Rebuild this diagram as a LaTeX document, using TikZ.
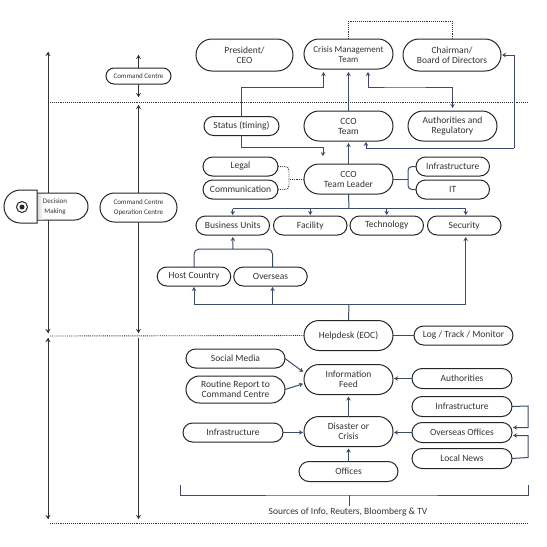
\documentclass[tikz,border=0pt]{standalone}
\usepackage{xcolor}
\usepackage{fontspec}
\setmainfont{Carlito}
\usetikzlibrary{positioning,arrows.meta,shapes.misc}
\definecolor{flowblue}{HTML}{3B4B68}
\definecolor{inkgrey}{HTML}{333333}

\begin{document}
\begin{tikzpicture}[
  x=1pt, y=-1pt,
  pill/.style={draw=black!85, fill=white, rounded rectangle, line width=1pt, inner sep=0pt, outer sep=0pt,
               text=inkgrey, font=\fontsize{9.5}{10}\selectfont, align=center},
  big/.style={pill, minimum width=89pt, minimum height=30pt},
  wide/.style={pill, minimum width=99pt, minimum height=20pt},
  small/.style={pill, minimum width=73.5pt, minimum height=19pt},
  tiny/.style={font=\fontsize{7}{9.5}\selectfont},
  flow/.style={draw=flowblue, line width=1pt},
  arrow/.style={flow, -{Stealth[length=4pt,width=4.5pt]}, shorten >=1pt},
  spine/.style={draw=inkgrey, line width=1pt, -{Stealth[length=4pt,width=5pt]}},
  dots/.style={draw=inkgrey, line width=0.9pt, densely dotted}
]
\useasboundingbox (0,0) rectangle (547,547);

% level separators
\coordinate (sepAL) at (50,102);  \coordinate (sepAR) at (528,102);
\coordinate (sepBL) at (50,336);
\coordinate (sepCL) at (50,523);  \coordinate (sepCR) at (528,523);
\draw[dots] (sepAL) -- (sepAR);
\draw[dots] (sepCL) -- (sepCR);

% top tier
\node[big, font=\fontsize{9}{10}\selectfont] (crisis) at (348.5,54) {Crisis Management\\Team};
\node[big, minimum width=97pt, minimum height=32pt, left=11pt of crisis, yshift=-1pt] (president) {President/\\CEO};
\node[big, minimum width=98pt, minimum height=32pt, right=10pt of crisis, yshift=-1pt] (chairman) {Chairman/\\Board of Directors};
\node[big, below=42pt of crisis] (ccoteam) {CCO\\Team};
\node[big, right=15pt of ccoteam] (authreg) {Authorities and\\Regulatory};
\node[small, minimum width=75pt, left=25pt of ccoteam] (status) {Status (timing)};
\node[big, below=23pt of ccoteam] (leader) {CCO\\Team Leader};
\node[small, minimum width=75pt] (legal) at (240.5,166.5) {Legal};
\node[small, minimum width=75pt, below=4pt of legal] (comm) {Communication};
\node[small, right=23pt of leader, yshift=12.5pt] (infra) {Infrastructure};
\node[small, below=4pt of infra] (it) {IT};

% business row
\node[small] (bu) at (232.75,225.5) {Business Units};
\node[small, right=4pt of bu] (facility) {Facility};
\node[small, right=3pt of facility] (technology) {Technology};
\node[small, right=4pt of technology] (security) {Security};
\node[small] (host) at (194,276.5) {Host Country};
\node[small, right=3pt of host] (overseas) {Overseas};

% lower tier
\node[big] (helpdesk) at (348.5,335.5) {Helpdesk (EOC)};
\node[wide, minimum height=19pt, right=21pt of helpdesk] (log) {Log / Track / Monitor};
\node[big, below=14pt of helpdesk] (feed) {Information\\Feed};
\node[big, below=22pt of feed] (disaster) {Disaster or\\Crisis};
\node[wide, below=15pt of disaster] (offices) {Offices};
\node[wide, minimum height=19pt] (social) at (235.5,358.5) {Social Media};
\node[wide, minimum height=27pt, below=8pt of social] (routine) {Routine Report to\\Command Centre};
\node[wide, minimum width=100pt, right=19pt of feed, yshift=1pt] (authfeed) {Authorities};
\node[wide, minimum width=100pt, right=19pt of disaster, yshift=-1pt] (offshore) {Overseas Offices};
\node[wide, minimum width=100pt, above=6pt of offshore] (infrafeed) {Infrastructure};
\node[wide, minimum width=100pt, below=6pt of offshore] (news) {Local News};
\node[wide, minimum width=100pt, minimum height=19pt, left=21pt of disaster, yshift=-1pt] (infraleft) {Infrastructure};
\node[font=\fontsize{9.5}{10}\selectfont, text=inkgrey, inner sep=2pt] (sources) at (348,512) {Sources of Info, Reuters, Bloomberg \& TV};

% left columns
\coordinate (leftA) at (48,52);   \coordinate (leftB) at (48,333);
\coordinate (leftC) at (48,338);  \coordinate (leftD) at (48,519);
\coordinate (midA) at (138.5,55); \coordinate (midB) at (138.5,97);
\coordinate (midC) at (138.5,105);\coordinate (midD) at (138.5,333);
\coordinate (midE) at (138.5,338);\coordinate (midF) at (138.5,519);
\draw[spine] (leftB) -- (leftA);
\draw[spine] (leftA) -- (leftB);
\draw[spine] (leftD) -- (leftC);
\draw[spine] (leftC) -- (leftD);
\draw[spine] (midB) -- (midA);
\draw[spine] (midA) -- (midB);
\draw[spine] (midD) -- (midC);
\draw[spine] (midC) -- (midD);
\draw[spine] (midE) -- (midF);
\node[pill, tiny, minimum width=65pt, minimum height=16pt] (command) at (138.5,76) {Command Centre};
\node[pill, tiny, minimum width=77pt, minimum height=29pt] (operation) at (138.5,207.5) {Command Centre\\Operation Centre};
\node[pill, minimum width=66pt, minimum height=27pt] (decision) at (55,206.5) {};
\shade[left color=black!45, right color=white, fill opacity=0.6] (33,194) rectangle (43,219.5);
\node[tiny, text=inkgrey, align=center, inner sep=0pt] (decisiontext) at (55,206.5) {Decision\\Making};
\node[draw=black!85, fill=white, line width=1pt, rounded rectangle, rounded rectangle right arc=none,
      minimum width=25pt, minimum height=33pt, inner sep=0pt, outer sep=0pt] (tab) at (20.5,206.5) {};
\node[draw=black!85, line width=1pt, circle, minimum size=11pt, inner sep=0pt] (tabring) at (22,207) {};
\node[fill=black!85, circle, minimum size=5pt, inner sep=0pt] (tabdot) at (22,207) {};
\draw[dots] (sepBL) -- (helpdesk.west);

% upper connectors
\coordinate (toprail) at (400,21);
\draw[dots] (crisis.north) |- (toprail) -| (chairman.north);
\coordinate (statusup) at (241.5,87);
\coordinate (authup) at (400,87);
\coordinate (statusdown) at (241.5,147);
\coordinate (leadertip) at (323,156);
\draw[arrow, shorten >=3pt] (status.north) -- (statusup) -| ([xshift=-25pt]crisis.south);
\draw[arrow, shorten >=3pt] (ccoteam.north) -- (crisis.south);
\draw[arrow, {Stealth[length=4pt,width=4.5pt]}-{Stealth[length=4pt,width=4.5pt]}, shorten <=3pt, shorten >=3pt]
  ([xshift=19.5pt]crisis.south) |- (authup) -| (authreg.north);
\draw[arrow, shorten >=0pt] (status.south) -- (statusdown) -| (leadertip);
\draw[arrow, shorten >=2pt] (leader.north) -- (ccoteam.south);
\coordinate (boardrail) at (514,148);
\draw[arrow, shorten >=1pt] (boardrail) -- ([xshift=17.5pt]ccoteam.south |- boardrail) -- ([xshift=17.5pt]ccoteam.south);
\draw[arrow] (boardrail) |- (chairman.east);

% leader branches
\coordinate (legaljoin) at (289,179);
\draw[dots, rounded corners=4pt] (legal.east) -| (legaljoin);
\draw[dots, rounded corners=4pt] (comm.east) -| (legaljoin);
\draw[dots] (leader.west) -- (legaljoin);
\coordinate (itjoin) at (408,179);
\draw[flow] (leader.east) -- (itjoin);
\draw[flow, rounded corners=4pt] (itjoin) |- (infra.west);
\draw[flow, rounded corners=4pt] (itjoin) |- (it.west);

% business rails
\coordinate (busrail) at (349,208.5);
\coordinate (deskrail) at (349,304);
\coordinate (burail) at (233,249);
\coordinate (sectop) at ([xshift=1.5pt]security.north);
\coordinate (secbot) at ([xshift=1.5pt]security.south);
\coordinate (ovrtop) at ([xshift=2pt]overseas.north);
\coordinate (ovrbot) at ([xshift=2pt]overseas.south);
\draw[flow] (leader.south) -- (busrail);
\draw[flow] (bu.north |- busrail) -- (sectop |- busrail);
\foreach \unit in {bu,facility,technology}
  \draw[arrow] (\unit.north |- busrail) -- (\unit.north);
\draw[arrow] (sectop |- busrail) -- (sectop);
\draw[flow, rounded corners=5pt] (host.north) |- (burail) -| (ovrtop);
\draw[arrow, shorten >=2pt] (burail) -- (bu.south);
\draw[flow] (helpdesk.north) -- (deskrail);
\draw[flow] (host.south |- deskrail) -- (secbot |- deskrail);
\draw[arrow] (host.south |- deskrail) -- (host.south);
\draw[arrow] (ovrbot |- deskrail) -- (ovrbot);
\draw[arrow, shorten >=2pt] (secbot |- deskrail) -- (secbot);
\draw[flow] (helpdesk.east) -- (log.west);

% sources
\draw[arrow] (social.east) -- ([yshift=7pt]feed.west);
\draw[arrow] (routine.east) -- ([yshift=-4pt]feed.west);
\draw[arrow] (authfeed.west) -- (feed.east |- authfeed.west);
\draw[arrow, shorten >=2pt] (disaster.north) -- (feed.south);
\draw[arrow] (offshore.west) -- (disaster.east |- offshore.west);
\draw[arrow] (infraleft.east) -- (disaster.west |- infraleft.east);
\draw[arrow, shorten >=2pt] (offices.north) -- (disaster.south);
\coordinate (infraturn) at (528,406);
\coordinate (newsturn) at (528,457.5);
\draw[arrow] (infrafeed.east) -- (infraturn) |- ([yshift=5pt]offshore.east);
\draw[arrow] (news.east) -- (newsturn) |- ([yshift=-3pt]offshore.east);

% bracket
\coordinate (bracketL) at (180,485);
\coordinate (bracketM) at (349,495);
\coordinate (bracketR) at (528,485);
\draw[flow] (bracketL) |- (bracketM) -| (bracketR);
\draw[flow] (bracketM) -- (sources.north -| bracketM);
\end{tikzpicture}
\end{document}
